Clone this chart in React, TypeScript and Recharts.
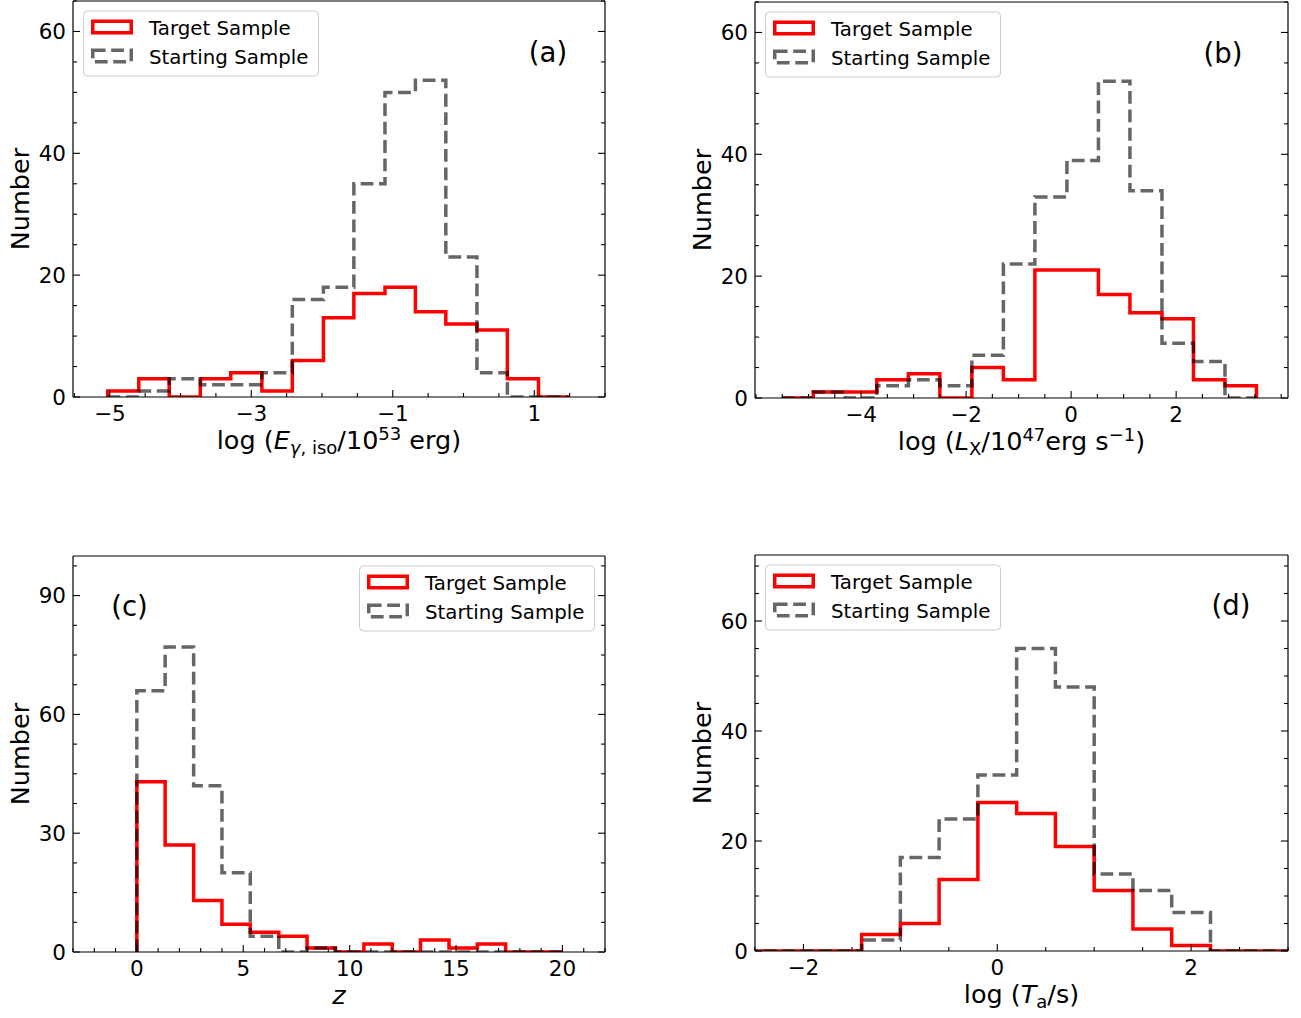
import React from 'react';
import { LineChart, Line, XAxis, YAxis } from 'recharts';

const FONT = "'DejaVu Sans', 'Liberation Sans', sans-serif";
const RED = '#ff0000';
const GREY = '#000000';
const legendLabels = ['Target Sample', 'Starting Sample'];
const yTitle = 'Number';

// ---------- panel (a): log E_iso ----------
const binEdgesA = [-5.03, -4.59, -4.16, -3.72, -3.29, -2.85, -2.42, -1.98, -1.55, -1.11, -0.68, -0.25, 0.19, 0.62, 1.06, 1.49];
const targetA = [1, 3, 0, 3, 4, 1, 6, 13, 17, 18, 14, 12, 11, 3, 0];
const startA = [0, 1, 3, 2, 2, 4, 16, 18, 35, 50, 52, 23, 4, 0, 0];
const xMajorA = [-5, -3, -1, 1];
const yMajorA = [0, 20, 40, 60];

// ---------- panel (b): log L_X ----------
const binEdgesB = [-5.51, -4.91, -4.3, -3.7, -3.1, -2.5, -1.89, -1.29, -0.69, -0.08, 0.52, 1.12, 1.73, 2.33, 2.93, 3.53];
const targetB = [0, 1, 1, 3, 4, 0, 5, 3, 21, 21, 17, 14, 13, 3, 2];
const startB = [0, 1, 0, 2, 3, 2, 7, 22, 33, 39, 52, 34, 9, 6, 0];
const xMajorB = [-4, -2, 0, 2];
const yMajorB = [0, 20, 40, 60];

// ---------- panel (c): z ----------
const binEdgesC = [0, 1.33, 2.67, 4, 5.33, 6.67, 8, 9.33, 10.67, 12, 13.33, 14.67, 16, 17.33, 18.67, 20];
const targetC = [43, 27, 13, 7, 5, 4, 1, 0, 2, 0, 3, 1, 2, 0, 0];
const startC = [66, 77, 42, 20, 4, 0, 1, 0, 0, 0, 0, 0, 0, 0, 0];
const xMajorC = [0, 5, 10, 15, 20];
const yMajorC = [0, 30, 60, 90];

// ---------- panel (d): log T_a ----------
const binEdgesD = [-2.6, -2.2, -1.8, -1.4, -1.0, -0.6, -0.2, 0.2, 0.6, 1.0, 1.4, 1.8, 2.2, 2.6, 3.0, 3.4];
const targetD = [0, 0, 0, 3, 5, 13, 27, 25, 19, 11, 4, 1, 0, 0, 0];
const startD = [0, 0, 0, 2, 17, 24, 32, 55, 48, 14, 11, 7, 0, 0, 0];
const xMajorD = [-2, 0, 2];
const yMajorD = [0, 20, 40, 60];

type Pt = { x: number; y: number };

// matplotlib "step" histogram outline built from bin edges and counts
function stepOutline(edges: number[], counts: number[]): Pt[] {
  const pts: Pt[] = [{ x: edges[0], y: 0 }];
  counts.forEach((c, i) => pts.push({ x: edges[i], y: c }));
  pts.push({ x: edges[edges.length - 1], y: counts[counts.length - 1] });
  pts.push({ x: edges[edges.length - 1], y: 0 });
  return pts;
}

function tickGrid(lo: number, hi: number, step: number, majors: number[]): number[] {
  const out: number[] = [];
  const n = Math.floor((hi - lo) / step + 1e-9);
  const first = Math.ceil(lo / step - 1e-9) * step;
  for (let i = 0; i <= n + 1; i++) {
    const v = +(first + i * step).toFixed(6);
    if (v >= lo - 1e-9 && v <= hi + 1e-9) out.push(v);
  }
  majors.forEach((m) => { if (!out.some((v) => Math.abs(v - m) < 1e-6)) out.push(m); });
  return out.sort((a, b) => a - b);
}

const fmt = (v: number) => (v < 0 ? '\u2212' + Math.abs(v) : String(v));
const isMajor = (v: number, majors: number[]) => majors.some((m) => Math.abs(m - v) < 1e-6);
const MAJ = 7;
const MIN = 4;
const TW = 1.1;
const TICK_FS = 21.5;

function BottomTick(p: any) {
  const major = isMajor(p.payload.value, p.majors);
  return (
    <g>
      <line x1={p.x} x2={p.x} y1={p.y} y2={p.y - (major ? MAJ : MIN)} stroke="#000" strokeWidth={TW} />
      {major && (
        <text x={p.x} y={p.y + 23.5} textAnchor="middle" fontSize={TICK_FS} fontFamily={FONT} fill="#000">
          {fmt(p.payload.value)}
        </text>
      )}
    </g>
  );
}
function TopTick(p: any) {
  const major = isMajor(p.payload.value, p.majors);
  return <line x1={p.x} x2={p.x} y1={p.y} y2={p.y + (major ? MAJ : MIN)} stroke="#000" strokeWidth={TW} />;
}
function LeftTick(p: any) {
  const major = isMajor(p.payload.value, p.majors);
  return (
    <g>
      <line x1={p.x} x2={p.x + (major ? MAJ : MIN)} y1={p.y} y2={p.y} stroke="#000" strokeWidth={TW} />
      {major && (
        <text x={p.x - 7} y={p.y + 7.8} textAnchor="end" fontSize={TICK_FS} fontFamily={FONT} fill="#000">
          {fmt(p.payload.value)}
        </text>
      )}
    </g>
  );
}
function RightTick(p: any) {
  const major = isMajor(p.payload.value, p.majors);
  return <line x1={p.x} x2={p.x - (major ? MAJ : MIN)} y1={p.y} y2={p.y} stroke="#000" strokeWidth={TW} />;
}

const SUB = 18;

function TitleA() {
  return (
    <>
      <tspan>log (</tspan>
      <tspan fontStyle="italic">E</tspan>
      <tspan fontSize={SUB} dy={5} fontStyle="italic">γ</tspan>
      <tspan fontSize={SUB}>, iso</tspan>
      <tspan dy={-5}>/10</tspan>
      <tspan fontSize={SUB} dy={-9}>53</tspan>
      <tspan dy={9}> erg)</tspan>
    </>
  );
}
function TitleB() {
  return (
    <>
      <tspan>log (</tspan>
      <tspan fontStyle="italic">L</tspan>
      <tspan fontSize={SUB} dy={5}>X</tspan>
      <tspan dy={-5}>/10</tspan>
      <tspan fontSize={SUB} dy={-9}>47</tspan>
      <tspan dy={9}>erg s</tspan>
      <tspan fontSize={SUB} dy={-9}>{'\u2212'}1</tspan>
      <tspan dy={9}>)</tspan>
    </>
  );
}
function TitleC() {
  return <tspan fontStyle="italic">z</tspan>;
}
function TitleD() {
  return (
    <>
      <tspan>log (</tspan>
      <tspan fontStyle="italic">T</tspan>
      <tspan fontSize={SUB} dy={5}>a</tspan>
      <tspan dy={-5}>/s)</tspan>
    </>
  );
}

interface PanelSpec {
  tag: string;
  plot: { x0: number; y0: number; x1: number; y1: number };
  xDomain: [number, number];
  yDomain: [number, number];
  xMajor: number[];
  xMinorStep: number;
  yMajor: number[];
  yMinorStep: number;
  target: Pt[];
  start: Pt[];
  Title: () => React.ReactElement;
  legendRight: boolean;
  tagPos: [number, number];
}

const PAD_L = 73;
const PAD_T = 1;
const PAD_R = 12;
const PAD_B = 66;

function Panel({ s }: { s: PanelSpec }) {
  const W = s.plot.x1 - s.plot.x0;
  const H = s.plot.y1 - s.plot.y0;
  const cw = W + PAD_L + PAD_R;
  const ch = H + PAD_T + PAD_B;
  const xTicks = tickGrid(s.xDomain[0], s.xDomain[1], s.xMinorStep, s.xMajor);
  const yTicks = tickGrid(s.yDomain[0], s.yDomain[1], s.yMinorStep, s.yMajor);
  const lgW = 236;
  const lgH = 66;
  const lgX = s.legendRight ? PAD_L + W - 10 - lgW : PAD_L + 10;
  const lgY = PAD_T + 9.5;
  const axisLine = { stroke: '#000', strokeWidth: 1.2 };
  return (
    <div style={{ position: 'absolute', left: s.plot.x0 - PAD_L, top: s.plot.y0 - PAD_T, width: cw, height: ch }}>
      <LineChart width={cw} height={ch} margin={{ left: PAD_L - 1, top: PAD_T - 1, right: PAD_R - 1, bottom: PAD_B - 1 }}>
        <XAxis xAxisId="x" dataKey="x" type="number" domain={s.xDomain} allowDataOverflow ticks={xTicks} interval={0}
          height={1} tickSize={0} tickMargin={0} tickLine={false} axisLine={axisLine}
          tick={(p: any) => <BottomTick {...p} majors={s.xMajor} />} />
        <XAxis xAxisId="xt" orientation="top" type="number" domain={s.xDomain} allowDataOverflow ticks={xTicks} interval={0}
          height={1} tickSize={0} tickMargin={0} tickLine={false} axisLine={axisLine}
          tick={(p: any) => <TopTick {...p} majors={s.xMajor} />} />
        <YAxis yAxisId="y" type="number" domain={s.yDomain} allowDataOverflow ticks={yTicks} interval={0}
          width={1} tickSize={0} tickMargin={0} tickLine={false} axisLine={axisLine}
          tick={(p: any) => <LeftTick {...p} majors={s.yMajor} />} />
        <YAxis yAxisId="yr" orientation="right" type="number" domain={s.yDomain} allowDataOverflow ticks={yTicks} interval={0}
          width={1} tickSize={0} tickMargin={0} tickLine={false} axisLine={axisLine}
          tick={(p: any) => <RightTick {...p} majors={s.yMajor} />} />
        <Line xAxisId="x" yAxisId="y" data={s.target} dataKey="y" type="stepAfter" stroke={RED} strokeWidth={3.5}
          dot={false} activeDot={false} isAnimationActive={false} legendType="none" />
        <Line xAxisId="x" yAxisId="y" data={s.start} dataKey="y" type="stepAfter" stroke={GREY} strokeOpacity={0.6}
          strokeWidth={3.5} strokeDasharray="12.8 5.6" dot={false} activeDot={false} isAnimationActive={false} legendType="none" />
      </LineChart>
      <svg width={cw} height={ch} style={{ position: 'absolute', left: 0, top: 0, pointerEvents: 'none', overflow: 'visible' }}>
        <text x={PAD_L + W / 2} y={PAD_T + H + 52} textAnchor="middle" fontSize={25.5} fontFamily={FONT} fill="#000"
          style={{ whiteSpace: 'pre' }}>
          <s.Title />
        </text>
        <text transform={`translate(${PAD_L - 44},${PAD_T + H / 2}) rotate(-90)`} textAnchor="middle" fontSize={25.5}
          fontFamily={FONT} fill="#000">
          {yTitle}
        </text>
        <text x={PAD_L + s.tagPos[0]} y={PAD_T + s.tagPos[1]} textAnchor="middle" fontSize={27.5} fontFamily={FONT} fill="#000">
          {s.tag}
        </text>
        <g transform={`translate(${lgX},${lgY})`}>
          <rect x={0.5} y={0.5} width={lgW - 1} height={lgH - 1} rx={4} ry={4} fill="#ffffff" fillOpacity={0.8}
            stroke="#cccccc" strokeWidth={1} />
          <rect x={9.75} y={10.75} width={38.5} height={11.5} fill="none" stroke={RED} strokeWidth={3.5} />
          <rect x={9.75} y={39.75} width={38.5} height={11.5} fill="none" stroke={GREY} strokeOpacity={0.6}
            strokeWidth={3.5} strokeDasharray="12.8 5.6" />
          <text x={66} y={24} fontSize={19.8} fontFamily={FONT} fill="#000">{legendLabels[0]}</text>
          <text x={66} y={53} fontSize={19.8} fontFamily={FONT} fill="#000">{legendLabels[1]}</text>
        </g>
      </svg>
    </div>
  );
}

const panels: PanelSpec[] = [
  {
    tag: '(a)', plot: { x0: 73, y0: 1, x1: 605, y1: 397 }, xDomain: [-5.52, 2.0], yDomain: [0, 65],
    xMajor: xMajorA, xMinorStep: 0.5, yMajor: yMajorA, yMinorStep: 5,
    target: stepOutline(binEdgesA, targetA), start: stepOutline(binEdgesA, startA),
    Title: TitleA, legendRight: false, tagPos: [475, 60.5],
  },
  {
    tag: '(b)', plot: { x0: 755, y0: 2, x1: 1288, y1: 398 }, xDomain: [-6.02, 4.13], yDomain: [0, 65],
    xMajor: xMajorB, xMinorStep: 0.5, yMajor: yMajorB, yMinorStep: 5,
    target: stepOutline(binEdgesB, targetB), start: stepOutline(binEdgesB, startB),
    Title: TitleB, legendRight: false, tagPos: [468, 61],
  },
  {
    tag: '(c)', plot: { x0: 73, y0: 556, x1: 605, y1: 952 }, xDomain: [-3, 22], yDomain: [0, 100],
    xMajor: xMajorC, xMinorStep: 1, yMajor: yMajorC, yMinorStep: 7.5,
    target: stepOutline(binEdgesC, targetC), start: stepOutline(binEdgesC, startC),
    Title: TitleC, legendRight: true, tagPos: [56.5, 59.5],
  },
  {
    tag: '(d)', plot: { x0: 755, y0: 555, x1: 1288, y1: 951 }, xDomain: [-2.5, 3.0], yDomain: [0, 72],
    xMajor: xMajorD, xMinorStep: 0.5, yMajor: yMajorD, yMinorStep: 5,
    target: stepOutline(binEdgesD, targetD), start: stepOutline(binEdgesD, startD),
    Title: TitleD, legendRight: false, tagPos: [476, 60],
  },
];

export default function App() {
  return (
    <div style={{ position: 'absolute', left: 0, top: 0, width: 1301, height: 1018, background: '#ffffff', overflow: 'hidden' }}>
      {panels.map((s) => (
        <Panel key={s.tag} s={s} />
      ))}
    </div>
  );
}
